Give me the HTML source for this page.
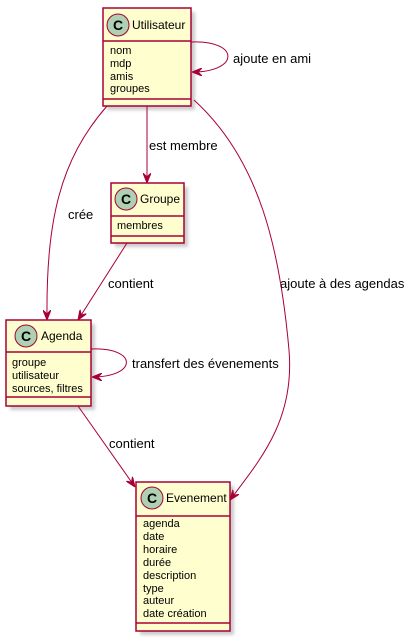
<!DOCTYPE html>
<html><head><meta charset="utf-8"><style>
html,body{margin:0;padding:0;background:#fff;}
svg{display:block;}
text{font-family:"Liberation Sans",sans-serif;fill:#000;}
.n{font-size:12px}.f{font-size:11px}.l{font-size:13px}
.box{fill:#FEFECE;stroke:#A80036;stroke-width:1.5}
.sh{fill:#999;opacity:.5;filter:url(#b)}
.e{fill:none;stroke:#A80036;stroke-width:1}
.sep{stroke:#A80036;stroke-width:1.5}
.ci{fill:#ADD1B2;stroke:#A80036;stroke-width:1}
</style></head><body>
<svg width="414" height="642" viewBox="0 0 414 642" xmlns="http://www.w3.org/2000/svg">
<defs>
<filter id="b"><feGaussianBlur stdDeviation="1.5"/></filter>
<marker id="a" viewBox="0 0 10 8" refX="10" refY="4" markerWidth="10" markerHeight="8" markerUnits="userSpaceOnUse" orient="auto">
<path d="M0,0 L10,4 L0,8 L4,4 Z" fill="#A80036" stroke="#A80036"/>
</marker>
</defs>

<!-- shadows -->
<rect class="sh" x="107" y="12" width="88" height="98"/>
<rect class="sh" x="115" y="187" width="73" height="60"/>
<rect class="sh" x="10" y="324" width="85" height="86"/>
<rect class="sh" x="140" y="486" width="94" height="149"/>

<!-- Utilisateur -->
<rect class="box" x="103" y="8" width="88" height="98"/>
<circle class="ci" cx="118" cy="25" r="11"/><text x="118" y="30" text-anchor="middle" style="font-size:14px;font-weight:bold">C</text>
<text class="n" x="132" y="29">Utilisateur</text>
<line class="sep" x1="103" y1="41" x2="191" y2="41"/>
<text class="f" x="110" y="54">nom</text>
<text class="f" x="110" y="67">mdp</text>
<text class="f" x="110" y="80">amis</text>
<text class="f" x="110" y="92">groupes</text>
<line class="sep" x1="103" y1="99" x2="191" y2="99"/>

<!-- Groupe -->
<rect class="box" x="111" y="183" width="73" height="60"/>
<circle class="ci" cx="126" cy="199" r="11"/><text x="126" y="204" text-anchor="middle" style="font-size:14px;font-weight:bold">C</text>
<text class="n" x="140" y="203">Groupe</text>
<line class="sep" x1="111" y1="216" x2="184" y2="216"/>
<text class="f" x="117" y="229">membres</text>
<line class="sep" x1="111" y1="236" x2="184" y2="236"/>

<!-- Agenda -->
<rect class="box" x="6" y="320" width="85" height="86"/>
<circle class="ci" cx="26" cy="336" r="11"/><text x="26" y="341" text-anchor="middle" style="font-size:14px;font-weight:bold">C</text>
<text class="n" x="41" y="340">Agenda</text>
<line class="sep" x1="6" y1="352" x2="91" y2="352"/>
<text class="f" x="12" y="366">groupe</text>
<text class="f" x="12" y="379">utilisateur</text>
<text class="f" x="12" y="392">sources, filtres</text>
<line class="sep" x1="6" y1="397" x2="91" y2="397"/>

<!-- Evenement -->
<rect class="box" x="136" y="482" width="94" height="149"/>
<circle class="ci" cx="152" cy="498" r="11"/><text x="152" y="503" text-anchor="middle" style="font-size:14px;font-weight:bold">C</text>
<text class="n" x="166" y="502">Evenement</text>
<line class="sep" x1="136" y1="516" x2="230" y2="516"/>
<text class="f" x="143" y="527">agenda</text>
<text class="f" x="143" y="540">date</text>
<text class="f" x="143" y="553">horaire</text>
<text class="f" x="143" y="566">durée</text>
<text class="f" x="143" y="579">description</text>
<text class="f" x="143" y="592">type</text>
<text class="f" x="143" y="604">auteur</text>
<text class="f" x="143" y="617">date création</text>
<line class="sep" x1="136" y1="623" x2="230" y2="623"/>

<!-- edges -->
<path class="e" marker-end="url(#a)" d="M191,42 C240,40 240,72 192,72"/>
<text class="l" x="233" y="63">ajoute en ami</text>

<path class="e" marker-end="url(#a)" d="M147,106 L147,183"/>
<text class="l" x="149" y="150">est membre</text>

<path class="e" marker-end="url(#a)" d="M107,106 C60,160 46,220 47,320"/>
<text class="l" x="68" y="219">crée</text>

<path class="e" marker-end="url(#a)" d="M127,243 L78,320"/>
<text class="l" x="108" y="288">contient</text>

<path class="e" marker-end="url(#a)" d="M194,100 C260,160 280,250 289,350 C295,420 260,460 230,500"/>
<text class="l" x="280" y="288">ajoute à des agendas</text>

<path class="e" marker-end="url(#a)" d="M91,349 C138,347 138,377 92,377"/>
<text class="l" x="132" y="368">transfert des évenements</text>

<path class="e" marker-end="url(#a)" d="M78,406 L135,487"/>
<text class="l" x="109" y="448">contient</text>
</svg>
</body></html>
